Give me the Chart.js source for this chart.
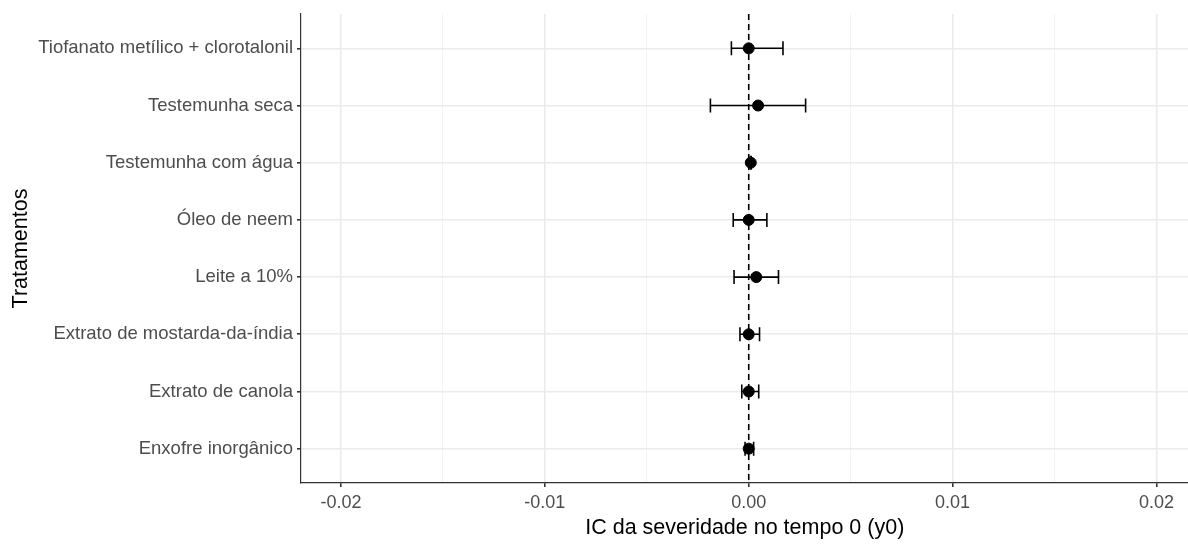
<!DOCTYPE html>
<html>
<head>
<meta charset="utf-8">
<script src="https://cdn.jsdelivr.net/npm/chart.js@4/dist/chart.umd.min.js"></script>
<style>
  html, body { margin: 0; padding: 0; background: #fff; overflow: hidden; }
  #wrap { width: 1195px; height: 545px; }
</style>
</head>
<body>
<div id="wrap"><canvas id="grafico"></canvas></div>
<script>
// tratamentos de cima para baixo
const tratamentos = [
  'Tiofanato metílico + clorotalonil',
  'Testemunha seca',
  'Testemunha com água',
  'Óleo de neem',
  'Leite a 10%',
  'Extrato de mostarda-da-índia',
  'Extrato de canola',
  'Enxofre inorgânico'
];
const estimativa  = [0.00000, 0.00046, 0.00010, 0.00000, 0.00037, 0.00000, 0.00000, 0.00000];
const limInferior = [-0.00085, -0.00188, 0.00008, -0.00076, -0.00072, -0.00043, -0.00034, -0.00018];
const limSuperior = [0.00168, 0.00279, 0.00012, 0.00089, 0.00146, 0.00053, 0.00049, 0.00024];

const xTicks = [-0.02, -0.015, -0.01, -0.005, 0, 0.005, 0.01, 0.015, 0.02];
const xTickLabels = ['-0.02', '', '-0.01', '', '0.00', '', '0.01', '', '0.02'];

const n = tratamentos.length;
const pontos = tratamentos.map((t, i) => ({ x: estimativa[i], y: n - i }));

const barrasErro = {
  id: 'barrasErro',
  beforeDatasetsDraw(chart) {
    const ctx = chart.ctx;
    const xs = chart.scales.x, ys = chart.scales.y;
    const area = chart.chartArea;
    ctx.save();
    ctx.beginPath();
    ctx.rect(area.left, area.top, area.right - area.left, area.bottom - area.top);
    ctx.clip();
    // linha de referencia em zero
    const x0 = xs.getPixelForValue(0);
    ctx.strokeStyle = '#000';
    ctx.lineWidth = 1.6;
    ctx.setLineDash([6, 4]);
    ctx.beginPath();
    ctx.moveTo(x0, area.top);
    ctx.lineTo(x0, area.bottom);
    ctx.stroke();
    ctx.setLineDash([]);
    // intervalos
    ctx.lineWidth = 1.6;
    tratamentos.forEach((t, i) => {
      const y = ys.getPixelForValue(n - i);
      const a = xs.getPixelForValue(limInferior[i]);
      const b = xs.getPixelForValue(limSuperior[i]);
      ctx.beginPath();
      ctx.moveTo(a, y); ctx.lineTo(b, y);
      ctx.moveTo(a, y - 7); ctx.lineTo(a, y + 7);
      ctx.moveTo(b, y - 7); ctx.lineTo(b, y + 7);
      ctx.stroke();
    });
    ctx.restore();
  }
};

new Chart(document.getElementById('grafico'), {
  type: 'scatter',
  data: {
    datasets: [{
      data: pontos,
      backgroundColor: '#000',
      borderColor: '#000',
      pointRadius: 5.5,
      pointHoverRadius: 5.5
    }]
  },
  options: {
    responsive: true,
    maintainAspectRatio: false,
    animation: false,
    layout: { padding: { top: 14, right: 0, left: 0, bottom: 0 } },
    plugins: { legend: { display: false }, tooltip: { enabled: false } },
    scales: {
      x: {
        min: -0.02196,
        max: 0.02157,
        afterBuildTicks: s => { s.ticks = xTicks.map(v => ({ value: v })); },
        afterFit: s => { s.height = 62; s.paddingLeft = 0; s.paddingRight = 0; },
        border: { color: '#333', width: 1.2 },
        grid: {
          color: c => (c.index % 2 === 0 ? '#ebebeb' : '#f3f3f3'),
          lineWidth: c => (c.index % 2 === 0 ? 1.6 : 1),
          tickColor: c => (c.index % 2 === 0 ? '#333' : 'rgba(0,0,0,0)'),
          tickLength: 4,
          drawOnChartArea: true
        },
        ticks: {
          autoSkip: false,
          maxRotation: 0,
          padding: 5,
          color: '#4d4d4d',
          font: { family: 'Liberation Sans, Arial', size: 18 },
          callback: (v, i) => xTickLabels[i]
        },
        title: {
          display: true,
          text: 'IC da severidade no tempo 0 (y0)',
          color: '#000',
          font: { family: 'Liberation Sans, Arial', size: 21.5 },
          padding: { top: 0, bottom: 4 }
        }
      },
      y: {
        min: 0.4,
        max: 8.6,
        afterBuildTicks: s => { s.ticks = tratamentos.map((t, i) => ({ value: n - i })); },
        afterFit: s => { s.width = 301; s.paddingTop = 0; s.paddingBottom = 0; },
        border: { color: '#333', width: 1.2 },
        grid: {
          color: '#ebebeb',
          lineWidth: 1.6,
          tickColor: '#333',
          tickLength: 4
        },
        ticks: {
          autoSkip: false,
          padding: 4,
          color: '#4d4d4d',
          font: { family: 'Liberation Sans, Arial', size: 18.5 },
          callback: v => tratamentos[n - v]
        },
        title: {
          display: true,
          text: 'Tratamentos',
          color: '#000',
          font: { family: 'Liberation Sans, Arial', size: 21.5 },
          padding: { top: 8, bottom: 0 }
        }
      }
    }
  },
  plugins: [barrasErro]
});
</script>
</body>
</html>
